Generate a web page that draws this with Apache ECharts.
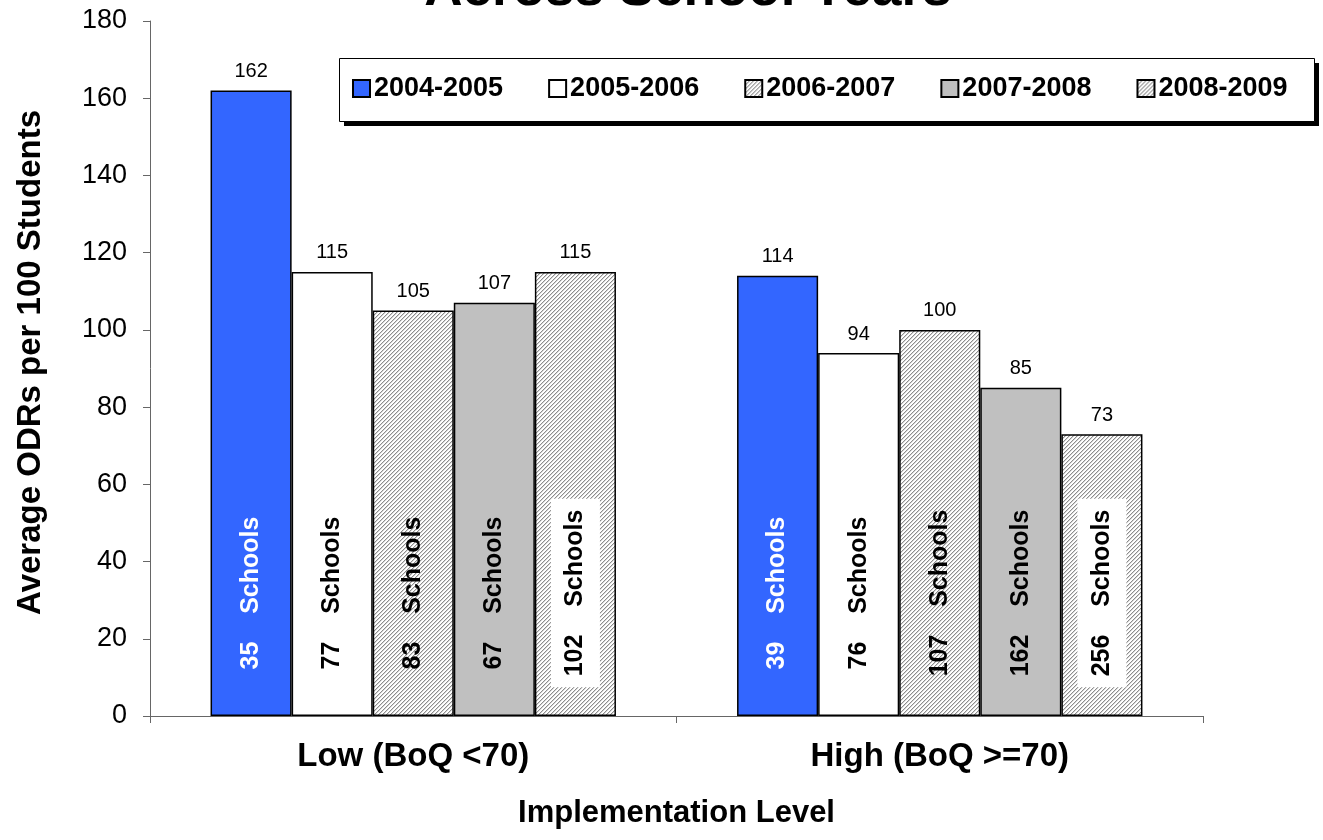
<!DOCTYPE html>
<html><head><meta charset="utf-8">
<script src="https://cdn.jsdelivr.net/npm/echarts@6/dist/echarts.min.js"></script>
<style>html,body{margin:0;padding:0;background:#fff}#c{width:1323px;height:840px}</style>
</head><body><div id="c"></div>
<script>
const titleText = 'Across School Years';
const categories = ['Low (BoQ <70)', 'High (BoQ >=70)'];
const years = ['2004-2005', '2005-2006', '2006-2007', '2007-2008', '2008-2009'];
const odr2004 = [162, 114];
const odr2005 = [115, 94];
const odr2006 = [105, 100];
const odr2007 = [107, 85];
const odr2008 = [115, 73];
const schools2004 = [35, 39];
const schools2005 = [77, 76];
const schools2006 = [83, 107];
const schools2007 = [67, 162];
const schools2008 = [102, 256];
const yTicks = { min: 0, max: 180, interval: 20 };

const FONT = '"Liberation Sans", Arial, Helvetica, sans-serif';

function hatch() {
  const c = document.createElement('canvas');
  c.width = 8; c.height = 8;
  const ctx = c.getContext('2d');
  const img = ctx.createImageData(8, 8);
  for (let y = 0; y < 8; y++) for (let x = 0; x < 8; x++) {
    const d = (x + y) % 4;
    let v = 255;
    if (d === 0) v = 140; else if (d === 1) v = 215;
    const i = (y * 8 + x) * 4;
    img.data[i] = v; img.data[i+1] = v; img.data[i+2] = v; img.data[i+3] = 255;
  }
  ctx.putImageData(img, 0, 0);
  return { image: c, repeat: 'repeat' };
}
const hatchFill = hatch();

const odrData = [odr2004, odr2005, odr2006, odr2007, odr2008];
const schoolData = [schools2004, schools2005, schools2006, schools2007, schools2008];
const fills = ['#3366FF', '#FFFFFF', hatchFill, '#C0C0C0', hatchFill];
const innerColor = ['#FFFFFF', '#000', '#000', '#000', '#000'];
const innerBg = [null, null, null, null, '#FFFFFF'];

const series = [];
years.forEach((yr, k) => {
  // label carrier at base of the stack (zero height)
  series.push({
    name: '_n' + yr, type: 'bar', stack: 's' + k,
    data: categories.map(() => 0),
    itemStyle: { color: 'transparent', borderWidth: 0 },
    silent: true,
    label: {
      show: true, position: 'insideBottom', distance: 123,
      rotate: 90, align: 'center', verticalAlign: 'middle',
      fontFamily: FONT, fontSize: 25, fontWeight: 'bold', color: innerColor[k],
      backgroundColor: innerBg[k] || 'transparent',
      padding: innerBg[k] ? [12, 11] : 0,
      formatter: p => schoolData[k][p.dataIndex] + '    Schools'
    }
  });
  series.push({
    name: yr, type: 'bar', stack: 's' + k,
    data: odrData[k],
    barGap: '0%', barCategoryGap: '23%',
    itemStyle: { color: fills[k], borderColor: '#000', borderWidth: 1.5 },
    label: {
      show: true, position: 'top', distance: 9,
      fontFamily: FONT, fontSize: 20, color: '#000',
      formatter: p => String(p.value)
    }
  });
});

const chart = echarts.init(document.getElementById('c'), null, { renderer: 'canvas' });
chart.setOption({
  backgroundColor: '#fff',
  animation: false,
  textStyle: { fontFamily: FONT },
  graphic: [
    { type: 'text', x: 688, y: 17, z: 10,
      style: { text: titleText, textAlign: 'center', textVerticalAlign: 'bottom',
        fontSize: 53, fontWeight: 'bold', fontFamily: FONT, fill: '#000' } },
    { type: 'rect', z: -2, shape: { x: 344, y: 63, width: 975, height: 63 },
      style: { fill: '#000' } },
    { type: 'rect', z: -1, shape: { x: 339.5, y: 58.5, width: 975, height: 63 },
      style: { fill: '#fff', stroke: '#000', lineWidth: 1 } }
  ],
  legend: {
    data: years,
    left: 339, top: 58,
    padding: [17, 18, 17, 13],
    itemGap: 45, itemWidth: 17, itemHeight: 17, icon: 'rect',
    textStyle: { fontFamily: FONT, fontSize: 27, fontWeight: 'bold', color: '#000', padding: [0, 0, 0, -1] },
    selectedMode: false
  },
  grid: { left: 150, right: 120, top: 21, bottom: 124, containLabel: false },
  xAxis: {
    type: 'category', data: categories,
    axisLine: { lineStyle: { color: '#666', width: 1 } },
    axisTick: { show: true, length: 7, lineStyle: { color: '#666' } },
    axisLabel: { fontFamily: FONT, fontSize: 33, fontWeight: 'bold', color: '#000', margin: 24 },
    name: 'Implementation Level', nameLocation: 'middle', nameGap: 82,
    nameTextStyle: { fontFamily: FONT, fontSize: 31, fontWeight: 'bold', color: '#000' }
  },
  yAxis: {
    type: 'value', min: yTicks.min, max: yTicks.max, interval: yTicks.interval,
    splitLine: { show: false },
    axisLine: { show: true, lineStyle: { color: '#666', width: 1 } },
    axisTick: { show: true, length: 7, lineStyle: { color: '#666' } },
    axisLabel: { fontFamily: FONT, fontSize: 27, color: '#000', margin: 23 },
    name: 'Average ODRs per 100 Students', nameLocation: 'middle', nameGap: 103,
    nameTextStyle: { fontFamily: FONT, fontSize: 33, fontWeight: 'bold', color: '#000', padding: [0, 0, 0, 12] }
  },
  series: series
});
</script></body></html>
